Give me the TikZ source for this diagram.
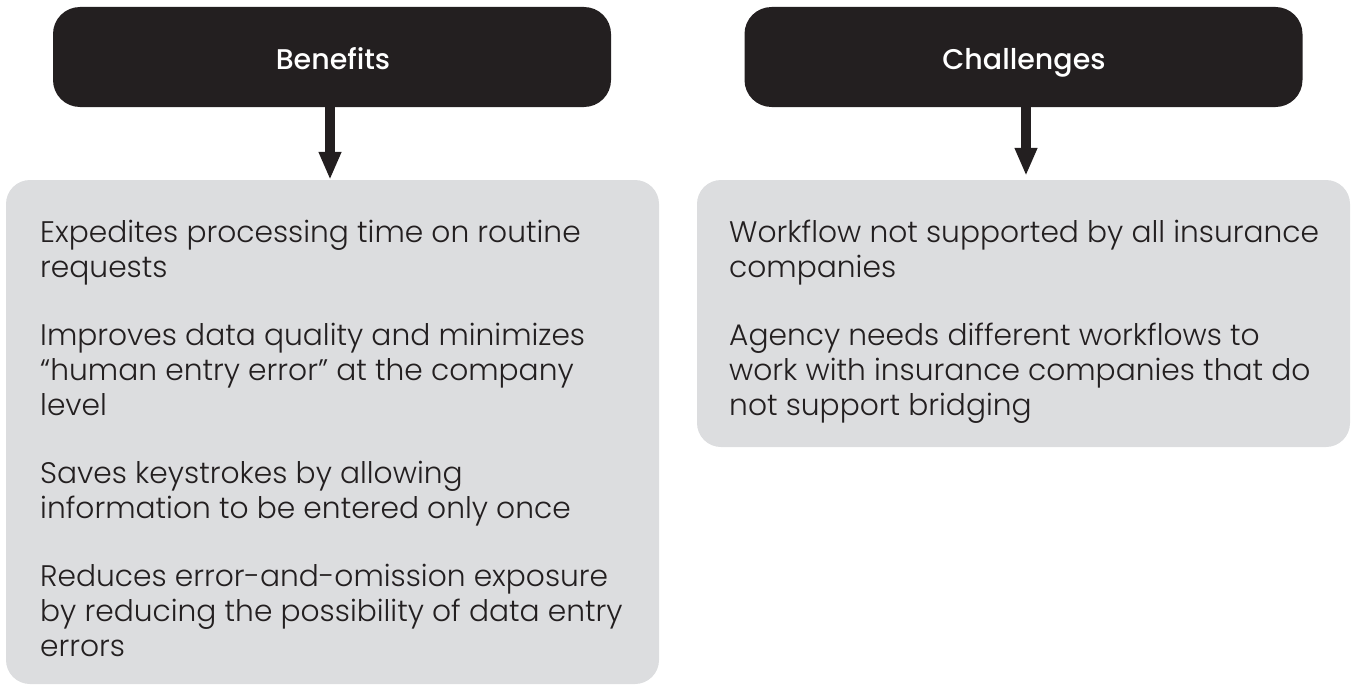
\documentclass[tikz,border=0pt]{standalone}
\usepackage{fontspec}
\setmainfont{Poppins Light}
\newfontfamily\titlefont{Poppins Medium}
\usetikzlibrary{arrows.meta}
\definecolor{boxblack}{HTML}{231F20}
\definecolor{boxgrey}{HTML}{DCDDDF}
\definecolor{txt}{HTML}{231F20}
\begin{document}
\begin{tikzpicture}[x=1pt,y=-1pt,
  headbox/.style={fill=boxblack, rounded corners=27pt, inner sep=0pt, minimum width=558pt, minimum height=100pt},
  listbox/.style={fill=boxgrey, rounded corners=24pt, inner sep=0pt, minimum width=653pt},
  titletext/.style={text=white, font=\titlefont\fontsize{28.5}{32}\selectfont, anchor=base, inner sep=0pt},
  bodytext/.style={text=txt, font=\fontsize{29.7}{35}\selectfont, anchor=base west, inner sep=0pt},
  arr/.style={draw=boxblack, line width=10pt, -{Triangle[width=21pt,length=28pt]}}
]
\useasboundingbox (0,0) rectangle (1351,685);

\node[headbox] (ben) at (332,57) {};
\node[headbox] (cha) at (1023.5,57) {};
\node[listbox, minimum height=504pt] (benbox) at (332.5,432) {};
\node[listbox, minimum height=267pt] (chabox) at (1023.5,313.5) {};

\node[titletext] (bentitle) at (333,70) {Benefits};
\node[titletext] (chatitle) at (1024,70) {Challenges};

\draw[arr] ([xshift=-2pt]ben.south) -- ([xshift=-2.5pt]benbox.north);
\draw[arr, shorten >=4pt] ([xshift=2.5pt]cha.south) -- ([xshift=2.5pt]chabox.north);

\node[bodytext] (bentext) at (40,242) {\vtop{%
  \hbox{Expedites processing time on routine}%
  \hbox{requests}\vskip33pt
  \hbox{Improves data quality and minimizes}%
  \hbox{“human entry error” at the company}%
  \hbox{level}\vskip33pt
  \hbox{Saves keystrokes by allowing}%
  \hbox{information to be entered only once}\vskip33pt
  \hbox{Reduces error-and-omission exposure}%
  \hbox{by reducing the possibility of data entry}%
  \hbox{errors}}};

\node[bodytext] (chatext) at (729,242) {\vtop{%
  \hbox{Workflow not supported by all insurance}%
  \hbox{companies}\vskip33pt
  \hbox{Agency needs different workflows to}%
  \hbox{work with insurance companies that do}%
  \hbox{not support bridging}}};
\end{tikzpicture}
\end{document}
